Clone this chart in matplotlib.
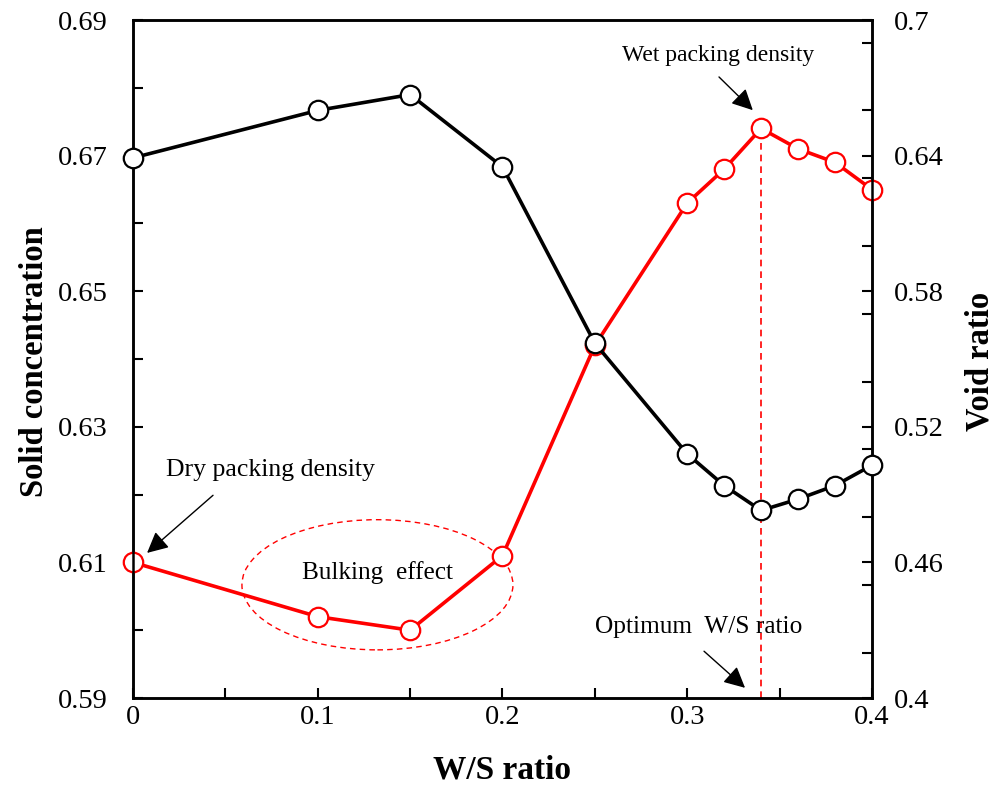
import matplotlib
matplotlib.use("Agg")
import matplotlib.pyplot as plt
from matplotlib.patches import Ellipse
from matplotlib.ticker import MultipleLocator

plt.rcParams['font.family'] = ['Liberation Serif', 'DejaVu Serif']

# water/solid ratio and measured packing results
ws_ratio = [0, 0.1, 0.15, 0.2, 0.25, 0.3, 0.32, 0.34, 0.36, 0.38, 0.4]
solid_conc = [0.610, 0.602, 0.600, 0.611, 0.642, 0.663, 0.668, 0.674, 0.671, 0.669, 0.665]
void_ratio = [0.639, 0.660, 0.667, 0.635, 0.557, 0.508, 0.494, 0.483, 0.488, 0.494, 0.503]
optimum_ws = 0.34
left_ticks = [0.59, 0.61, 0.63, 0.65, 0.67, 0.69]
right_ticks = [0.4, 0.46, 0.52, 0.58, 0.64, 0.7]
x_ticks = [0, 0.1, 0.2, 0.3, 0.4]

fig = plt.figure(figsize=(9.98, 7.94), dpi=100)
ax = fig.add_axes([0.1333, 0.1209, 0.7404, 0.8539])
ax2 = ax.twinx()

mk = dict(marker='o', markersize=14, markerfacecolor='white', markeredgewidth=1.6)
ax.plot(ws_ratio, solid_conc, color='#ff0000', lw=2.6, clip_on=False, zorder=3, **mk)
ax2.plot(ws_ratio, void_ratio, color='black', lw=2.6, clip_on=False, zorder=3, **mk)

# optimum line from the peak down to the x axis
peak = solid_conc[ws_ratio.index(optimum_ws)]
ax.plot([optimum_ws, optimum_ws], [0.59, peak], color='#ff0000', lw=1.2,
        linestyle=(0, (4, 3)), zorder=2)

ax.add_patch(Ellipse((0.1323, 0.6067), 0.1467, 0.0192, fill=False,
                     edgecolor='#ff0000', lw=1.0, linestyle=(0, (4, 3))))

ax.set_xlim(0, 0.4)
ax.set_ylim(0.59, 0.69)
ax2.set_ylim(0.4, 0.7)
ax.set_xticks(x_ticks)
ax.set_xticklabels([f'{v:g}' for v in x_ticks])
ax.xaxis.set_minor_locator(MultipleLocator(0.05))
ax.set_yticks(left_ticks)
ax.set_yticklabels([f'{v:g}' for v in left_ticks])
ax.yaxis.set_minor_locator(MultipleLocator(0.01))
ax2.set_yticks(right_ticks)
ax2.set_yticklabels([f'{v:g}' for v in right_ticks])
ax2.yaxis.set_minor_locator(MultipleLocator(0.03))

for a in (ax, ax2):
    for s in a.spines.values():
        s.set_linewidth(1.8)
    a.tick_params(which='both', direction='in', length=7, width=1.5, labelsize=20.5)
ax.tick_params(which='both', top=False, right=False)
ax.tick_params(axis='y', pad=18)
ax.tick_params(axis='x', pad=5)
ax2.tick_params(which='both', left=False, pad=16)

ax.set_xlabel('W/S ratio', fontsize=24, fontweight='bold', va='center')
ax.xaxis.set_label_coords(0.5, -0.106)
ax.set_ylabel('Solid concentration', fontsize=23.5, fontweight='bold', va='center')
ax.yaxis.set_label_coords(-0.133, 0.496)
ax2.set_ylabel('Void ratio', fontsize=23.5, fontweight='bold', va='center')
ax2.yaxis.set_label_coords(1.146, 0.497)

arrow = dict(arrowstyle='-|>', mutation_scale=32, color='black', lw=1.0,
             shrinkA=0, shrinkB=0)
ax.text(0.3167, 0.6848, 'Wet packing density', fontsize=17, ha='center', va='center')
ax.annotate('', xy=(0.3355, 0.6767), xytext=(0.3172, 0.6816), arrowprops=arrow)
ax.text(0.0742, 0.6237, 'Dry packing density', fontsize=18.5, ha='center', va='center')
ax.annotate('', xy=(0.0076, 0.6114), xytext=(0.0433, 0.6199), arrowprops=arrow)
ax.text(0.1326, 0.6085, 'Bulking  effect', fontsize=18.2, ha='center', va='center')
ax.text(0.3064, 0.6004, 'Optimum  W/S ratio', fontsize=18.3, ha='center', va='center')
ax.annotate('', xy=(0.3313, 0.5915), xytext=(0.3091, 0.5969), arrowprops=arrow)

fig.savefig('out.png', dpi=100)
